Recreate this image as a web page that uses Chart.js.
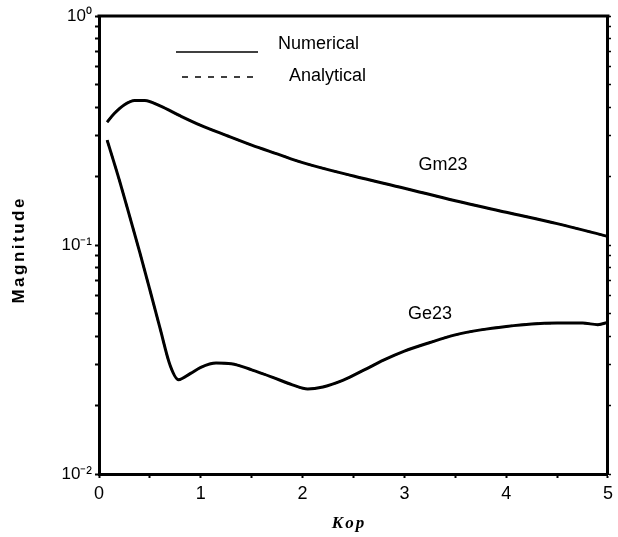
<!DOCTYPE html>
<html>
<head>
<meta charset="utf-8">
<script src="https://cdn.jsdelivr.net/npm/chart.js@4/dist/chart.umd.min.js"></script>
<style>
  html, body { margin: 0; padding: 0; background: #fff; }
  #wrap { width: 618px; height: 537px; }
</style>
</head>
<body>
<div id="wrap"><canvas id="magChart"></canvas></div>
<script>
// Gm23 curve
const gmKop = [0.08, 0.15, 0.25, 0.35, 0.45, 0.6, 0.8, 1.0, 1.25, 1.5, 1.75, 2.0, 2.5, 3.0, 3.5, 4.0, 4.5, 5.0];
const gmMag = [0.344, 0.375, 0.41, 0.428, 0.428, 0.405, 0.366, 0.333, 0.301, 0.273, 0.25, 0.229, 0.2, 0.177, 0.156, 0.139, 0.124, 0.109];

// Ge23 curve
const geKop = [0.08, 0.2, 0.3, 0.4, 0.5, 0.6, 0.7, 0.78, 0.9, 1.0, 1.15, 1.3, 1.5, 1.7, 1.9, 2.05, 2.2, 2.4, 2.6, 2.8, 3.0, 3.25, 3.5, 3.75, 4.0, 4.25, 4.5, 4.75, 4.9, 5.0];
const geMag = [0.287, 0.192, 0.134, 0.093, 0.0636, 0.0432, 0.0297, 0.0258, 0.0275, 0.0292, 0.0305, 0.0303, 0.0285, 0.0265, 0.0245, 0.0235, 0.024, 0.0257, 0.0284, 0.0315, 0.0344, 0.0375, 0.0405, 0.0426, 0.0441, 0.0452, 0.0456, 0.0456, 0.0449, 0.046];

// analytical results sit on top of the numerical ones
const gmAnalytical = gmMag;
const geAnalytical = geMag;

const yTicks = [0.01, 0.02, 0.03, 0.04, 0.05, 0.06, 0.07, 0.08, 0.09,
                0.1, 0.2, 0.3, 0.4, 0.5, 0.6, 0.7, 0.8, 0.9, 1];
const yTickLabels = { '-2': '10\u207B\u00B2', '-1': '10\u207B\u00B9', '0': '10\u2070' };

const toPoints = (xs, ys) => xs.map((x, i) => ({ x: x, y: ys[i] }));

const SANS = "'Liberation Sans', Arial, Helvetica, sans-serif";

function setLogTicks(scale) {
    scale.ticks = yTicks.map(v => ({ value: v }));
}

// frame, legend, curve names, axis titles
const decorPlugin = {
    id: 'decor',
    afterDraw(chart) {
        const ctx = chart.ctx;
        const a = chart.chartArea;
        ctx.save();
        ctx.strokeStyle = '#000';
        ctx.lineWidth = 3;
        ctx.beginPath();
        ctx.moveTo(a.left - 1.5, a.top);
        ctx.lineTo(a.right + 1.5, a.top);
        ctx.stroke();

        // legend
        ctx.lineWidth = 1.6;
        ctx.beginPath();
        ctx.moveTo(176, 52);
        ctx.lineTo(258, 52);
        ctx.stroke();
        ctx.setLineDash([6, 7]);
        ctx.beginPath();
        ctx.moveTo(182, 77);
        ctx.lineTo(254, 77);
        ctx.stroke();
        ctx.setLineDash([]);

        ctx.fillStyle = '#000';
        ctx.textBaseline = 'middle';
        ctx.textAlign = 'left';
        ctx.font = '18px ' + SANS;
        ctx.fillText('Numerical', 278, 44);
        ctx.fillText('Analytical', 289, 76);

        ctx.textAlign = 'center';
        ctx.fillText('Gm23', 443, 165);
        ctx.fillText('Ge23', 430, 314);

        // y title
        ctx.save();
        ctx.translate(19, 251);
        ctx.rotate(-Math.PI / 2);
        ctx.font = 'bold 17px ' + SANS;
        ctx.letterSpacing = '2.5px';
        ctx.fillText('Magnitude', 1.2, 0);
        ctx.restore();

        // x title
        ctx.font = 'bold italic 17px "Liberation Serif", "Times New Roman", serif';
        ctx.letterSpacing = '2px';
        ctx.fillText('Kop', 349, 524);
        ctx.restore();
    }
};

const ctx = document.getElementById('magChart').getContext('2d');

new Chart(ctx, {
    type: 'line',
    data: {
        datasets: [
            {
                label: 'Gm23 Analytical',
                data: toPoints(gmKop, gmAnalytical),
                borderColor: '#000',
                borderWidth: 2,
                borderDash: [6, 7],
                pointRadius: 0,
                cubicInterpolationMode: 'monotone'
            },
            {
                label: 'Ge23 Analytical',
                data: toPoints(geKop, geAnalytical),
                borderColor: '#000',
                borderWidth: 2,
                borderDash: [6, 7],
                pointRadius: 0,
                cubicInterpolationMode: 'monotone'
            },
            {
                label: 'Gm23 Numerical',
                data: toPoints(gmKop, gmMag),
                borderColor: '#000',
                borderWidth: 3,
                pointRadius: 0,
                cubicInterpolationMode: 'monotone'
            },
            {
                label: 'Ge23 Numerical',
                data: toPoints(geKop, geMag),
                borderColor: '#000',
                borderWidth: 3,
                pointRadius: 0,
                cubicInterpolationMode: 'monotone'
            }
        ]
    },
    options: {
        responsive: true,
        maintainAspectRatio: false,
        animation: false,
        layout: { padding: { top: 16, left: 0, right: 0, bottom: 0 } },
        plugins: {
            legend: { display: false },
            tooltip: { enabled: false }
        },
        scales: {
            x: {
                type: 'linear',
                min: 0,
                max: 5,
                ticks: {
                    stepSize: 0.5,
                    autoSkip: false,
                    maxRotation: 0,
                    padding: 5,
                    color: '#000',
                    font: { family: SANS, size: 18 },
                    callback: function(value) {
                        return Number.isInteger(value) ? String(value) : '';
                    }
                },
                grid: {
                    drawOnChartArea: false,
                    tickLength: 4,
                    tickColor: '#000',
                    tickWidth: 2
                },
                border: { display: true, color: '#000', width: 3 },
                afterFit: function(scale) { scale.height = 63; }
            },
            y: {
                type: 'logarithmic',
                min: 0.01,
                max: 1,
                afterBuildTicks: setLogTicks,
                ticks: {
                    autoSkip: false,
                    padding: 3,
                    color: '#000',
                    font: { family: SANS, size: 17 },
                    callback: function(value) {
                        const e = Math.log10(value);
                        return Math.abs(e - Math.round(e)) < 1e-9 ? yTickLabels[String(Math.round(e))] : '';
                    }
                },
                grid: {
                    drawOnChartArea: false,
                    tickLength: 4,
                    tickColor: '#000',
                    tickWidth: 2
                },
                border: { display: true, color: '#000', width: 3 },
                afterFit: function(scale) { scale.width = 99; }
            },
            yRight: {
                type: 'logarithmic',
                position: 'right',
                min: 0.01,
                max: 1,
                afterBuildTicks: setLogTicks,
                ticks: { display: false },
                grid: {
                    drawOnChartArea: false,
                    tickLength: 3,
                    tickColor: '#000',
                    tickWidth: 1.5
                },
                border: { display: true, color: '#000', width: 3 },
                afterFit: function(scale) { scale.width = 7; }
            }
        }
    },
    plugins: [decorPlugin]
});
</script>
</body>
</html>
